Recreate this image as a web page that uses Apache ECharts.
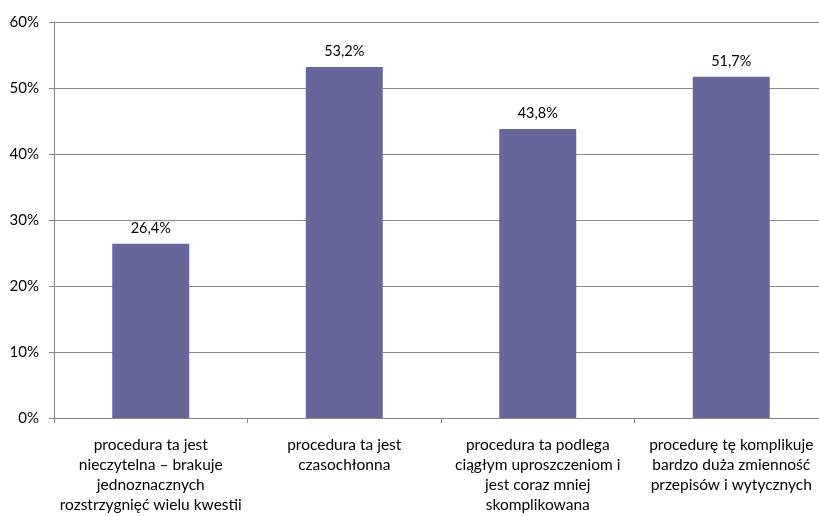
<!DOCTYPE html>
<html>
<head>
<meta charset="utf-8">
<script src="https://cdn.jsdelivr.net/npm/echarts@6/dist/echarts.min.js"></script>
<style>
  html, body { margin: 0; padding: 0; background: #fff; }
  #chart { width: 819px; height: 516px; }
</style>
</head>
<body>
<div id="chart"></div>
<script>
// Category labels (line breaks as they wrap under each bar)
const categories = [
  'procedura ta jest\nnieczytelna – brakuje\njednoznacznych\nrozstrzygnięć wielu kwestii',
  'procedura ta jest\nczasochłonna',
  'procedura ta podlega\nciągłym uproszczeniom i\njest coraz mniej\nskomplikowana',
  'procedurę tę komplikuje\nbardzo duża zmienność\nprzepisów i wytycznych'
];
// Share of answers, in percent
const values = [26.4, 53.2, 43.8, 51.7];

const FONT = 'Lato, "Open Sans", sans-serif';

const chart = echarts.init(document.getElementById('chart'), null, { renderer: 'canvas' });
chart.setOption({
  animation: false,
  backgroundColor: '#ffffff',
  // plot area runs slightly past the right edge of the canvas
  grid: { left: 54, top: 22, right: -9, bottom: 98, containLabel: false, outerBoundsMode: 'none' },
  xAxis: {
    type: 'category',
    data: categories,
    axisLine: { lineStyle: { color: '#868686', width: 1 } },
    axisTick: { show: true, length: 5, alignWithLabel: false, lineStyle: { color: '#868686' } },
    axisLabel: {
      interval: 0,
      margin: 17,
      color: '#000',
      fontFamily: FONT,
      fontSize: 15.5,
      lineHeight: 20,
      align: 'center'
    }
  },
  yAxis: {
    type: 'value',
    min: 0,
    max: 60,
    interval: 10,
    axisLine: { show: true, lineStyle: { color: '#868686', width: 1 } },
    axisTick: { show: true, length: 5, lineStyle: { color: '#868686' } },
    splitLine: { lineStyle: { color: '#8c8c8c', width: 1 } },
    axisLabel: {
      formatter: v => v + '%',
      color: '#000',
      fontFamily: FONT,
      fontSize: 15,
      margin: 15
    }
  },
  series: [{
    type: 'bar',
    data: values,
    barWidth: 77,
    itemStyle: { color: '#66669a' },
    label: {
      show: true,
      position: 'top',
      distance: 8,
      formatter: p => p.value.toFixed(1).replace('.', ',') + '%',
      color: '#000',
      fontFamily: FONT,
      fontSize: 14.5
    }
  }]
});
</script>
</body>
</html>
